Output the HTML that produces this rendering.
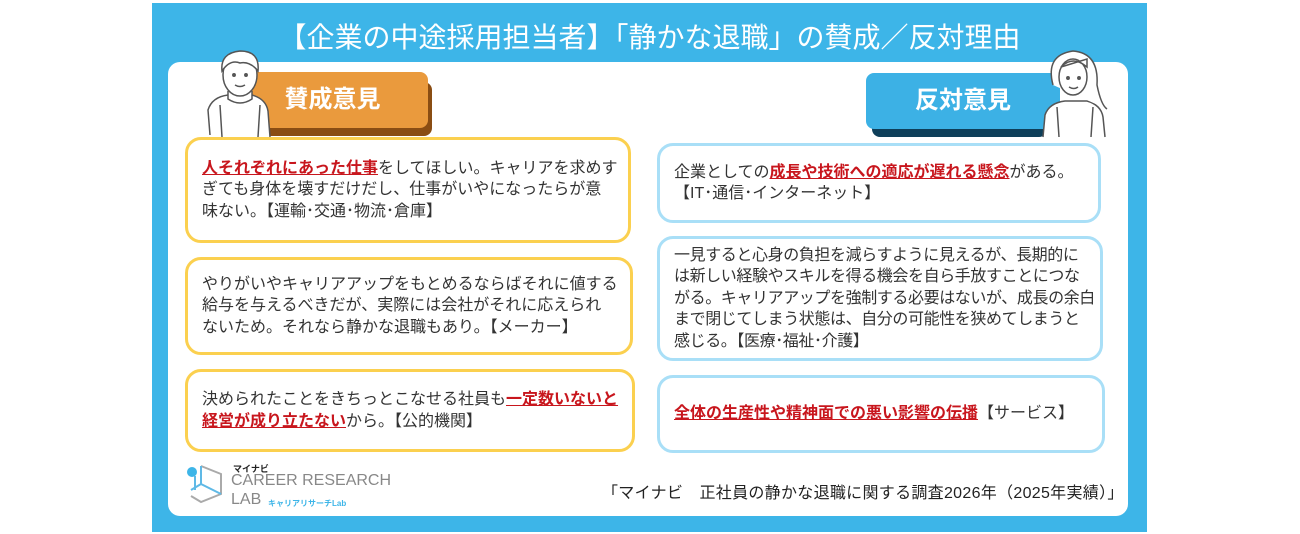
<!DOCTYPE html>
<html><head><meta charset="utf-8"><style>
*{margin:0;padding:0;box-sizing:border-box}
body{width:1300px;height:534px;background:#fff;position:relative;overflow:hidden;font-family:"Liberation Sans","Noto Sans CJK JP",sans-serif;color:#333}
.abs{position:absolute}
#blue{left:152px;top:3px;width:995px;height:529px;background:#3db5e8}
#title{left:152px;top:18px;width:995px;text-align:center;color:#fff;font-size:28px;line-height:40px;font-weight:400}
#inner{left:168px;top:62px;width:960px;height:454px;background:#fff;border-radius:12px}
.tag{height:56px;border-radius:8px;color:#fff;font-size:24px;font-weight:bold;text-align:center;line-height:56px}
.box{border-radius:16px;background:#fff;font-size:16px;line-height:21.5px;padding-left:14px;display:flex;align-items:center;white-space:nowrap}
.y{border:3px solid #fbd04f}
.b{border:3px solid #a9dff7}
.r{color:#c8161d;text-decoration:underline;text-decoration-color:#c8161d;font-weight:bold}
</style></head><body>
<div class="abs" id="blue"></div>
<div class="abs" id="title">【企業の中途採用担当者】「静かな退職」の賛成／反対理由</div>
<div class="abs" id="inner"></div>

<div class="abs" style="left:252px;top:82px;width:180px;height:54px;background:#8a4d13;border-radius:8px"></div>
<div class="abs tag" style="left:237px;top:72px;width:191px;background:#ea9a3d">賛成意見</div>
<div class="abs" style="left:872px;top:82px;width:175px;height:55px;background:#0e3f5a;border-radius:8px"></div>
<div class="abs tag" style="left:866px;top:73px;width:194px;background:#3cb1e5">反対意見</div>

<svg class="abs" style="left:190px;top:45px" width="90" height="95" viewBox="0 0 90 95" fill="#fff" stroke="#555" stroke-width="1.5">
<path d="M20 90 L18 65 Q22 52 38 50 L62 50 Q76 54 78 66 L80 92"/>
<path d="M38 46 L38 54 Q50 62 62 54 L62 46"/>
<ellipse cx="50" cy="30" rx="17" ry="21"/>
<path d="M32 26 Q30 8 50 6 Q70 6 68 26 Q60 16 50 18 Q40 14 32 26Z" fill="#fff"/>
<path d="M30 60 L32 92 M70 60 L68 92"/>
<circle cx="44" cy="30" r="1.2" fill="#555"/><circle cx="56" cy="30" r="1.2" fill="#555"/>
<path d="M45 40 Q50 43 55 40" fill="none"/>
</svg>
<svg class="abs" style="left:1035px;top:45px" width="80" height="95" viewBox="0 0 80 95" fill="#fff" stroke="#555" stroke-width="1.5">
<path d="M8 92 L10 70 Q14 58 30 56 L52 56 Q66 60 68 72 L70 92"/>
<path d="M18 40 Q10 10 38 6 Q64 8 62 40 Q66 60 72 64"/>
<ellipse cx="38" cy="32" rx="14" ry="18"/>
<path d="M26 22 Q38 10 52 22 L52 14 Z"/>
<circle cx="33" cy="33" r="1.2" fill="#555"/><circle cx="44" cy="33" r="1.2" fill="#555"/>
<path d="M34 42 Q39 45 43 42" fill="none"/>
<path d="M22 62 L24 92 M58 62 L56 92"/>
</svg>

<div class="abs box y" style="left:185px;top:137px;width:446px;height:106px">
<div><span class="r">人それぞれにあった仕事</span>をしてほしい。キャリアを求めす<br>ぎても身体を壊すだけだし、仕事がいやになったらが意<br>味ない。【運輸･交通･物流･倉庫】</div></div>
<div class="abs box y" style="left:185px;top:257px;width:448px;height:98px">
<div>やりがいやキャリアアップをもとめるならばそれに値する<br>給与を与えるべきだが、実際には会社がそれに応えられ<br>ないため。それなら静かな退職もあり。【メーカー】</div></div>
<div class="abs box y" style="left:185px;top:369px;width:450px;height:83px">
<div>決められたことをきちっとこなせる社員も<span class="r">一定数いないと</span><br><span class="r">経営が成り立たない</span>から。【公的機関】</div></div>

<div class="abs box b" style="left:657px;top:143px;width:444px;height:80px">
<div>企業としての<span class="r">成長や技術への適応が遅れる懸念</span>がある。<br>【IT･通信･インターネット】</div></div>
<div class="abs box b" style="left:657px;top:236px;width:446px;height:125px">
<div style="letter-spacing:-0.4px">一見すると心身の負担を減らすように見えるが、長期的に<br>は新しい経験やスキルを得る機会を自ら手放すことにつな<br>がる。キャリアアップを強制する必要はないが、成長の余白<br>まで閉じてしまう状態は、自分の可能性を狭めてしまうと<br>感じる。【医療･福祉･介護】</div></div>
<div class="abs box b" style="left:657px;top:375px;width:448px;height:78px">
<div><span class="r">全体の生産性や精神面での悪い影響の伝播</span>【サービス】</div></div>

<svg class="abs" style="left:185px;top:460px" width="40" height="45" viewBox="0 0 40 45" fill="none" stroke-width="2">
<path d="M16 6 L36 14 L36 34 L16 42 L6 36" stroke="#aaa"/>
<path d="M16 6 L16 24 L36 34 M16 24 L6 30" stroke="#5fb9e6"/>
<path d="M10 16 L10 30" stroke="#5fb9e6"/>
<circle cx="7" cy="12" r="5" fill="#3db5e8" stroke="none"/>
</svg>
<div class="abs" style="left:233px;top:462px;font-size:9px;font-weight:bold;color:#222">マイナビ</div>
<div class="abs" style="left:231px;top:472px;font-size:16px;color:#888">CAREER RESEARCH</div>
<div class="abs" style="left:231px;top:491px;font-size:16px;color:#888">LAB</div>
<div class="abs" style="left:268px;top:498px;font-size:8px;color:#3db5e8;font-weight:bold">キャリアリサーチLab</div>

<div class="abs" style="left:602px;top:479px;font-size:16px;color:#222;white-space:nowrap;letter-spacing:0.3px">「マイナビ　正社員の静かな退職に関する調査2026年（2025年実績）」</div>
</body></html>
